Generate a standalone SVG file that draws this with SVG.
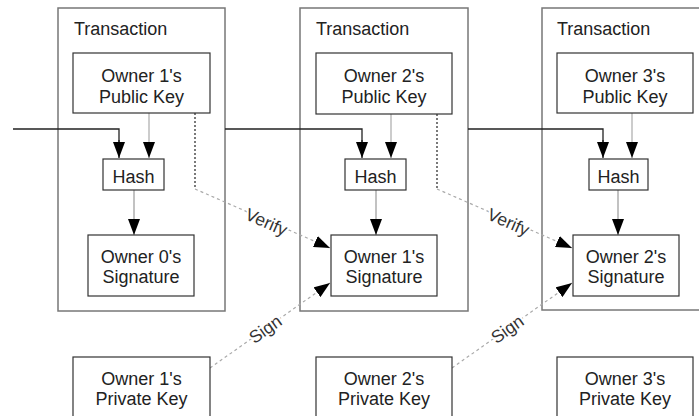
<svg xmlns="http://www.w3.org/2000/svg" width="699" height="416" viewBox="0 0 699 416">
<style>
text{font-family:"Liberation Sans",Arial,sans-serif;font-size:18px;fill:#222}
.tx{fill:none;stroke:#777;stroke-width:1.5}
.bx{fill:#fff;stroke:#333;stroke-width:1.2}
.c{text-anchor:middle}
.chain{fill:none;stroke:#222;stroke-width:1.3}
.pk{fill:none;stroke:#aaa;stroke-width:1.2}
.hs{fill:none;stroke:#999;stroke-width:1.2}
.dot{fill:none;stroke:#222;stroke-width:1.2;stroke-dasharray:2,2}
.dash{fill:none;stroke:#aaa;stroke-width:1.2;stroke-dasharray:3,3}
.lbl{font-size:17.5px;fill:#333;text-anchor:middle;stroke:#fff;stroke-width:4;paint-order:stroke}
</style>
<defs>
<marker id="ah" markerUnits="userSpaceOnUse" markerWidth="16" markerHeight="12" refX="16" refY="6" orient="auto">
<path d="M0,0 L16,6 L0,12 Z" fill="#000"/>
</marker>
</defs>

<g id="tx1">
<rect class="tx" x="58" y="8" width="167" height="303"/>
<text x="74" y="35">Transaction</text>
</g>
<g id="tx2">
<rect class="tx" x="300" y="8" width="168" height="303"/>
<text x="316" y="35">Transaction</text>
</g>
<g id="tx3">
<rect class="tx" x="542" y="8" width="180" height="302"/>
<text x="557" y="35">Transaction</text>
</g>

<g id="connectors">
<polyline class="chain" points="13,129 119,129 119,142"/>
<polyline class="chain" points="225,129 362,129 362,142"/>
<polyline class="chain" points="468,129 603,129 603,142"/>
<line class="chain" x1="119" y1="140" x2="119" y2="158" marker-end="url(#ah)"/>
<line class="chain" x1="362" y1="140" x2="362" y2="158" marker-end="url(#ah)"/>
<line class="chain" x1="603" y1="140" x2="603" y2="158" marker-end="url(#ah)"/>
<line class="pk" x1="149" y1="113" x2="149" y2="158" marker-end="url(#ah)"/>
<line class="pk" x1="391" y1="114" x2="391" y2="158" marker-end="url(#ah)"/>
<line class="pk" x1="632" y1="113" x2="632" y2="158" marker-end="url(#ah)"/>
<line class="hs" x1="134" y1="190" x2="134" y2="235" marker-end="url(#ah)"/>
<line class="hs" x1="376" y1="190" x2="376" y2="235" marker-end="url(#ah)"/>
<line class="hs" x1="618" y1="190" x2="618" y2="235" marker-end="url(#ah)"/>
<line class="dot" x1="195" y1="113" x2="195" y2="189"/>
<line class="dot" x1="437" y1="114" x2="437" y2="189"/>
<line class="dash" x1="195" y1="189" x2="330" y2="248" marker-end="url(#ah)"/>
<line class="dash" x1="437" y1="189" x2="572" y2="248" marker-end="url(#ah)"/>
<line class="dash" x1="210" y1="368" x2="330" y2="283" marker-end="url(#ah)"/>
<line class="dash" x1="452" y1="368" x2="572" y2="283" marker-end="url(#ah)"/>
<text class="lbl" transform="translate(266,223) rotate(23.6)" y="5">Verify</text>
<text class="lbl" transform="translate(508,223) rotate(23.6)" y="5">Verify</text>
<text class="lbl" transform="translate(266,330) rotate(-35.3)" y="5">Sign</text>
<text class="lbl" transform="translate(508,330) rotate(-35.3)" y="5">Sign</text>
</g>

<g id="pub1"><rect class="bx" x="73" y="53" width="137" height="60"/><text class="c" x="141.5" y="82">Owner 1's</text><text class="c" x="141.5" y="103">Public Key</text></g>
<g id="pub2"><rect class="bx" x="316" y="53" width="136" height="61"/><text class="c" x="384" y="82">Owner 2's</text><text class="c" x="384" y="103">Public Key</text></g>
<g id="pub3"><rect class="bx" x="557" y="53" width="136" height="60"/><text class="c" x="625" y="82">Owner 3's</text><text class="c" x="625" y="103">Public Key</text></g>

<g id="hash1"><rect class="bx" x="103" y="159" width="61" height="31"/><text class="c" x="133.5" y="183">Hash</text></g>
<g id="hash2"><rect class="bx" x="345" y="159" width="61" height="31"/><text class="c" x="375.5" y="183">Hash</text></g>
<g id="hash3"><rect class="bx" x="589" y="159" width="59" height="31"/><text class="c" x="618.5" y="183">Hash</text></g>

<g id="sig0"><rect class="bx" x="88" y="235" width="106" height="61"/><text class="c" x="141" y="263">Owner 0's</text><text class="c" x="141" y="283">Signature</text></g>
<g id="sig1"><rect class="bx" x="331" y="235" width="106" height="61"/><text class="c" x="384" y="263">Owner 1's</text><text class="c" x="384" y="283">Signature</text></g>
<g id="sig2"><rect class="bx" x="573" y="235" width="106" height="61"/><text class="c" x="626" y="263">Owner 2's</text><text class="c" x="626" y="283">Signature</text></g>

<g id="priv1"><rect class="bx" x="73" y="357" width="137" height="70"/><text class="c" x="141.5" y="385">Owner 1's</text><text class="c" x="141.5" y="405">Private Key</text></g>
<g id="priv2"><rect class="bx" x="316" y="357" width="136" height="70"/><text class="c" x="384" y="385">Owner 2's</text><text class="c" x="384" y="405">Private Key</text></g>
<g id="priv3"><rect class="bx" x="557" y="357" width="136" height="70"/><text class="c" x="625" y="385">Owner 3's</text><text class="c" x="625" y="405">Private Key</text></g>
</svg>
